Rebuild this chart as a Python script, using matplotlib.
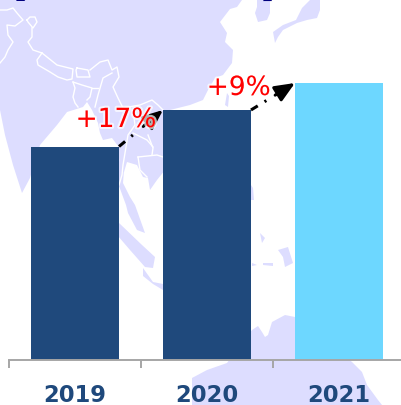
import matplotlib
matplotlib.use('Agg')
import matplotlib.pyplot as plt
import matplotlib.patheffects as pe
from matplotlib.patches import Polygon

years = ['2019', '2020', '2021']
values = [213.5, 250, 277]
bar_colors = ['#1F497C', '#1F497C', '#6DD7FF']
growth_labels = ['+17%', '+9%']

LAND = '#DDDDFF'

# background map, traced in picture pixels
land_shapes = [
    [(0, 0), (242, 0), (237, 7), (230, 9), (220, 22), (227, 33), (225, 42), (233, 50), (232, 63),
     (223, 75), (215, 78), (208, 90), (203, 100), (190, 105), (170, 110), (165, 170), (157, 180),
     (150, 190), (148, 178), (143, 177), (137, 165), (127, 162), (124, 172), (120, 170), (118, 146),
     (112, 138), (103, 140), (100, 133), (98, 123), (92, 110), (87, 102), (83, 107), (67, 112),
     (57, 125), (40, 145), (30, 178), (22, 193), (13, 165), (5, 135), (2, 120), (0, 110)],
    [(119, 160), (124, 170), (123, 183), (130, 197), (135, 205), (145, 233), (137, 230), (128, 213),
     (126, 205), (119, 186)],
    [(118, 222), (142, 245), (155, 257), (153, 268), (145, 267), (130, 250), (118, 236)],
    [(143, 268), (153, 282), (163, 284), (163, 290), (153, 284), (143, 276)],
    [(255, 13), (257, 7), (257, 0), (270, 0), (270, 13), (267, 20), (258, 22)],
    [(310, 0), (302, 8), (296, 20), (283, 25), (273, 32), (275, 43), (278, 37), (283, 30), (297, 23),
     (307, 20), (317, 18), (320, 10), (320, 0)],
    [(227, 93), (229, 96), (228, 107), (225, 105)],
    [(251, 185), (253, 188), (254, 200), (251, 200)],
    [(260, 233), (265, 238), (262, 243)],
    [(278, 250), (288, 247), (293, 263), (285, 267), (283, 257)],
    [(252, 263), (257, 265), (252, 266)],
    [(263, 263), (273, 263), (273, 266), (263, 265)],
    [(192, 405), (192, 378), (207, 370), (227, 363), (240, 345), (252, 330), (258, 326), (262, 332),
     (265, 337), (268, 335), (272, 322), (285, 315), (300, 318), (352, 362), (362, 372), (367, 385),
     (378, 400), (382, 405)],
]

border_lines = [
    [(0, 63), (5, 57), (8, 50), (13, 42), (8, 35), (7, 25), (15, 26), (23, 20), (17, 13), (13, 8), (7, 10), (0, 10)],
    [(27, 20), (30, 17), (35, 17), (37, 22), (33, 28), (28, 22), (27, 20)],
    [(32, 28), (32, 37), (28, 42), (33, 50), (42, 53), (37, 60), (38, 65), (50, 72), (58, 77), (67, 80), (72, 79), (73, 69), (57, 65), (42, 53)],
    [(77, 68), (88, 70), (90, 77), (77, 77), (76, 70), (77, 68)],
    [(90, 70), (100, 62), (108, 60), (112, 70), (117, 67), (119, 77), (113, 87), (118, 98), (123, 108), (140, 105), (152, 100), (158, 105), (163, 110)],
    [(112, 73), (103, 78), (98, 95), (95, 107)],
    [(73, 82), (75, 88), (73, 97), (75, 103), (78, 107)],
    [(73, 82), (82, 85), (92, 88), (90, 97), (87, 100)],
    [(92, 88), (98, 88)],
    [(138, 157), (157, 155), (163, 157)],
    [(138, 157), (140, 170), (147, 177)],
    [(148, 135), (153, 148), (152, 155)],
    [(133, 110), (135, 125), (128, 135), (123, 165), (122, 175), (119, 185)],
    [(133, 133), (147, 140), (153, 147)],
]

fig = plt.figure(figsize=(4.01, 4.05), dpi=100)

bg = fig.add_axes([0, 0, 1, 1], zorder=0)
bg.set_xlim(0, 401)
bg.set_ylim(405, 0)
bg.axis('off')
for shape in land_shapes:
    bg.add_patch(Polygon(shape, closed=True, facecolor=LAND, edgecolor='none'))
for line in border_lines:
    xs, ys = zip(*line)
    bg.plot(xs, ys, color='white', lw=1.0, solid_joinstyle='round')

# only the foot of the cut off heading is left on the picture
for x_px, ch in [(11, '【'), (277, '】')]:
    bg.text(x_px, -1, ch, color='#00007F', fontsize=21, ha='center', va='baseline', clip_on=True,
            family=['Noto Sans CJK JP', 'DejaVu Sans'])

ax = fig.add_axes([9 / 401, 45 / 405, 392 / 401, 360 / 405], zorder=1)
ax.patch.set_alpha(0)
ax.set_xlim(-0.5, 2.47)
ax.set_ylim(0, 360)

x = range(len(years))
bar_width = 88 / 132
ax.bar(x, values, width=bar_width, color=bar_colors, zorder=2)

for s in ['top', 'right', 'left']:
    ax.spines[s].set_visible(False)
ax.spines['bottom'].set_color('#A6A6A6')
ax.spines['bottom'].set_linewidth(1.4)
ax.set_yticks([])
ax.set_xticks([-0.5, 0.5, 1.5])
ax.set_xticklabels([])
ax.tick_params(axis='x', direction='out', length=5.8, width=1.4, color='#A6A6A6')

for i, year in enumerate(years):
    ax.annotate(year, (i, 0), xytext=(0, -30.5), textcoords='offset points', ha='center', va='baseline',
                fontsize=16.3, fontweight='bold', color='#1F497C', annotation_clip=False)

# growth arrows go from the top corner of one bar to the top corner of the next
for i, label in enumerate(growth_labels):
    x0, y0 = i + bar_width / 2, values[i]
    x1, y1 = i + 1 - bar_width / 2, values[i + 1]
    # dash and dot first, then a solid piece with the head
    xm, ym = x0 + 0.36 * (x1 - x0), y0 + 0.36 * (y1 - y0)
    xh, yh = x0 + 0.55 * (x1 - x0), y0 + 0.55 * (y1 - y0)
    ax.plot([x0, xm], [y0, ym], color='black', lw=2.2, zorder=3, dash_capstyle='butt',
            linestyle=(0, (2.6, 2.6, 0.7, 2.6)))
    ax.annotate('', xy=(x1, y1), xytext=(xh, yh),
                arrowprops=dict(arrowstyle='-|>,head_length=0.75,head_width=0.32', color='black', lw=2.2,
                                shrinkA=0, shrinkB=0, mutation_scale=16),
                zorder=3)

label_pos = [(0.31, 240), (1.24, 272)]
for (lx, ly), label in zip(label_pos, growth_labels):
    ax.text(lx, ly, label, color='#FF0000', fontsize=19, ha='center', va='center', zorder=4,
            path_effects=[pe.withStroke(linewidth=3, foreground='white', alpha=0.7)])

fig.savefig('out.png', dpi=100)
